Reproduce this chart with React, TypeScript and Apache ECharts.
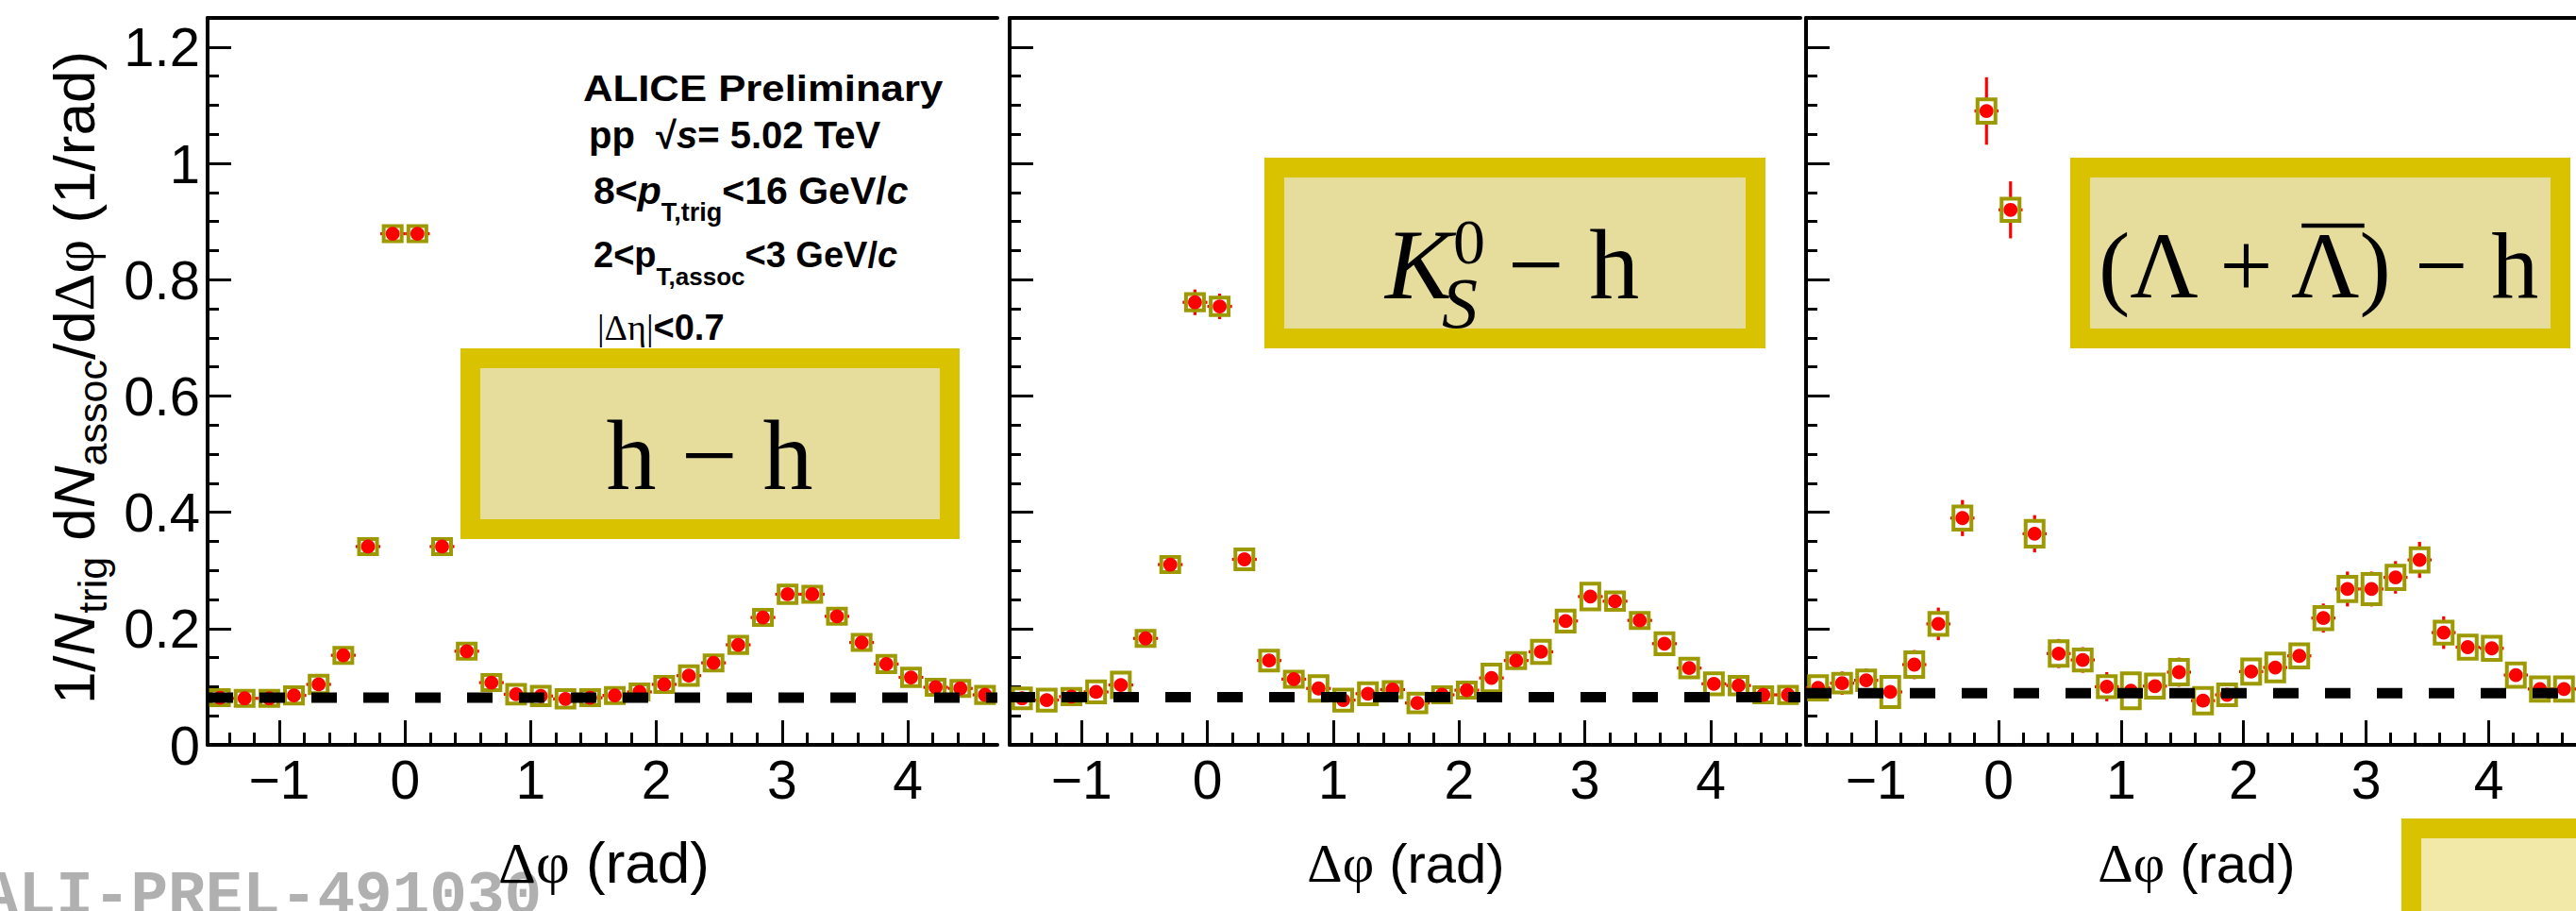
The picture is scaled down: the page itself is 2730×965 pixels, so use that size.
import React, { useEffect, useRef } from "react";
import * as echarts from "echarts";

// ---------- data ----------
const PHI_MIN = -1.5708;
const PHI_MAX = 4.7124;
const BIN_HALF = 0.0982;
const Y_MIN = 0;
const Y_MAX = 1.25;

const dPhi = [
  -1.4726, -1.2763, -1.0799, -0.8836, -0.6872, -0.4909, -0.2945, -0.0982,
  0.0982, 0.2945, 0.4909, 0.6872, 0.8836, 1.0799, 1.2763, 1.4726,
  1.669, 1.8653, 2.0617, 2.258, 2.4544, 2.6507, 2.8471, 3.0434,
  3.2398, 3.4361, 3.6325, 3.8288, 4.0252, 4.2215, 4.4179, 4.6142,
];

const hhYield = [
  0.081, 0.080, 0.080, 0.085, 0.104, 0.154, 0.341, 0.879,
  0.879, 0.341, 0.161, 0.107, 0.087, 0.084, 0.079, 0.081,
  0.085, 0.091, 0.104, 0.119, 0.141, 0.172, 0.219, 0.259,
  0.259, 0.221, 0.176, 0.139, 0.116, 0.099, 0.097, 0.086,
];
const hhStat = [
  0.004, 0.004, 0.004, 0.004, 0.005, 0.006, 0.008, 0.012,
  0.012, 0.008, 0.006, 0.005, 0.004, 0.004, 0.004, 0.004,
  0.004, 0.004, 0.004, 0.005, 0.005, 0.006, 0.007, 0.008,
  0.008, 0.007, 0.006, 0.005, 0.005, 0.004, 0.004, 0.004,
];
const hhSys = [
  0.012, 0.013, 0.011, 0.014, 0.015, 0.011, 0.011, 0.011,
  0.011, 0.012, 0.012, 0.010, 0.016, 0.016, 0.015, 0.012,
  0.011, 0.012, 0.012, 0.016, 0.010, 0.014, 0.013, 0.015,
  0.011, 0.012, 0.013, 0.014, 0.015, 0.012, 0.011, 0.014,
];

const k0Yield = [
  0.080, 0.077, 0.083, 0.091, 0.103, 0.183, 0.310, 0.761,
  0.754, 0.319, 0.145, 0.113, 0.097, 0.077, 0.088, 0.095,
  0.072, 0.086, 0.094, 0.115, 0.145, 0.160, 0.213, 0.255,
  0.247, 0.214, 0.174, 0.132, 0.105, 0.102, 0.086, 0.086,
];
const k0Stat = [
  0.008, 0.008, 0.008, 0.009, 0.010, 0.012, 0.015, 0.022,
  0.022, 0.015, 0.011, 0.010, 0.010, 0.009, 0.009, 0.009,
  0.009, 0.009, 0.010, 0.010, 0.011, 0.012, 0.013, 0.014,
  0.014, 0.013, 0.012, 0.011, 0.010, 0.010, 0.009, 0.009,
];
const k0Sys = [
  0.017, 0.018, 0.013, 0.018, 0.021, 0.013, 0.013, 0.014,
  0.015, 0.017, 0.017, 0.011, 0.021, 0.018, 0.018, 0.011,
  0.016, 0.012, 0.012, 0.023, 0.013, 0.019, 0.018, 0.022,
  0.015, 0.013, 0.018, 0.016, 0.018, 0.015, 0.013, 0.014,
];

const lamYield = [
  0.098, 0.106, 0.111, 0.091, 0.138, 0.208, 0.390, 1.090,
  0.920, 0.363, 0.157, 0.146, 0.100, 0.093, 0.101, 0.125,
  0.076, 0.086, 0.126, 0.133, 0.153, 0.218, 0.268, 0.268,
  0.288, 0.318, 0.193, 0.168, 0.166, 0.120, 0.096, 0.096,
];
const lamStat = [
  0.020, 0.020, 0.020, 0.020, 0.025, 0.028, 0.031, 0.058,
  0.049, 0.032, 0.025, 0.022, 0.025, 0.020, 0.022, 0.025,
  0.020, 0.020, 0.022, 0.022, 0.022, 0.025, 0.030, 0.030,
  0.028, 0.031, 0.028, 0.022, 0.022, 0.022, 0.020, 0.020,
];
const lamSys = [
  0.020, 0.016, 0.017, 0.026, 0.021, 0.019, 0.020, 0.020,
  0.019, 0.022, 0.021, 0.018, 0.018, 0.030, 0.020, 0.021,
  0.022, 0.018, 0.021, 0.024, 0.020, 0.019, 0.021, 0.026,
  0.020, 0.020, 0.019, 0.020, 0.020, 0.020, 0.020, 0.020,
];

const baselines = [0.081, 0.082, 0.089];

const xTickValues = [-1, 0, 1, 2, 3, 4];
const xMinorValues = [
  -1.4, -1.2, -0.8, -0.6, -0.4, -0.2, 0.2, 0.4, 0.6, 0.8, 1.2, 1.4, 1.6, 1.8,
  2.2, 2.4, 2.6, 2.8, 3.2, 3.4, 3.6, 3.8, 4.2, 4.4, 4.6,
];
const yTickValues = [0, 0.2, 0.4, 0.6, 0.8, 1, 1.2];
const yMinorValues = [
  0.05, 0.1, 0.15, 0.25, 0.3, 0.35, 0.45, 0.5, 0.55, 0.65, 0.7, 0.75,
  0.85, 0.9, 0.95, 1.05, 1.1, 1.15, 1.25,
];

// ---------- style ----------
const SANS = '"Liberation Sans", Arial, Helvetica, sans-serif';
const SERIF = '"Liberation Serif", "Times New Roman", serif';
const MONO = '"Liberation Mono", "Courier New", monospace';
const RED = "#ff0000";
const OLIVE = "#9c9a00";
const GOLD = "#d9c200";
const KHAKI = "#e6dc9c";
const PALE = "#f2e8a8";

const panels = [
  { left: 220, width: 837, y: hhYield, stat: hhStat, sys: hhSys, base: baselines[0], labels: true },
  { left: 1070, width: 838, y: k0Yield, stat: k0Stat, sys: k0Sys, base: baselines[1], labels: false },
  { left: 1914, width: 826, y: lamYield, stat: lamStat, sys: lamSys, base: baselines[2], labels: false },
];

const GRID_TOP = 19;
const GRID_H = 770;

function minusFmt(v: number) {
  return v < 0 ? "\u2212" + Math.abs(v) : String(v);
}

function textWidth(t: string, font: string) {
  const ctx = document.createElement("canvas").getContext("2d");
  if (!ctx) return t.length * 50;
  ctx.font = font;
  return ctx.measureText(t).width;
}

function renderPoint(params: any, api: any) {
  const x = api.value(0);
  const y = api.value(1);
  const st = api.value(2);
  const sy = api.value(3);
  const c = api.coord([x, y]);
  const cl = api.coord([x - BIN_HALF, y]);
  const cr = api.coord([x + BIN_HALF, y]);
  const ct = api.coord([x, y + st]);
  const cb = api.coord([x, y - st]);
  const bt = api.coord([x, y + sy]);
  const bb = api.coord([x, y - sy]);
  const h = Math.max(bb[1] - bt[1], 16);
  return {
    type: "group",
    children: [
      { type: "line", shape: { x1: cl[0], y1: c[1], x2: cr[0], y2: c[1] }, style: { stroke: RED, lineWidth: 3.2 } },
      { type: "line", shape: { x1: c[0], y1: ct[1], x2: c[0], y2: cb[1] }, style: { stroke: RED, lineWidth: 3.2 } },
      {
        type: "rect",
        shape: { x: c[0] - 9.5, y: c[1] - h / 2, width: 19, height: h },
        style: { fill: "#ffffff", stroke: OLIVE, lineWidth: 4 },
      },
      { type: "circle", shape: { cx: c[0], cy: c[1], r: 7.4 }, style: { fill: RED } },
    ],
  };
}

function buildOption() {
  const grid: any[] = [];
  const xAxis: any[] = [];
  const yAxis: any[] = [];
  const series: any[] = [];
  const axLine = { color: "#000", width: 4 };
  const tickLine = { color: "#000", width: 3 };

  panels.forEach((p, i) => {
    grid.push({ left: p.left, top: GRID_TOP, width: p.width, height: GRID_H, containLabel: false });
    xAxis.push({
      gridIndex: i, type: "value", min: PHI_MIN, max: PHI_MAX, position: "bottom",
      axisLine: { show: true, onZero: false, lineStyle: axLine },
      axisTick: { show: true, inside: true, length: 26, lineStyle: tickLine, customValues: xTickValues },
      axisLabel: {
        show: true, customValues: xTickValues, margin: 8, fontSize: 57, fontFamily: SANS,
        color: "#000", formatter: minusFmt,
      },
      splitLine: { show: false },
    });
    xAxis.push({
      gridIndex: i, type: "value", min: PHI_MIN, max: PHI_MAX, position: "bottom",
      axisLine: { show: false, onZero: false },
      axisTick: { show: true, inside: true, length: 13, lineStyle: tickLine, customValues: xMinorValues },
      axisLabel: { show: false },
      splitLine: { show: false },
    });
    xAxis.push({
      gridIndex: i, type: "value", min: PHI_MIN, max: PHI_MAX, position: "top",
      axisLine: { show: true, onZero: false, lineStyle: axLine },
      axisTick: { show: false }, axisLabel: { show: false }, splitLine: { show: false },
    });
    yAxis.push({
      gridIndex: i, type: "value", min: Y_MIN, max: Y_MAX, position: "left",
      axisLine: { show: true, onZero: false, lineStyle: axLine },
      axisTick: { show: true, inside: true, length: 25, lineStyle: tickLine, customValues: yTickValues },
      axisLabel: {
        show: p.labels, customValues: yTickValues, margin: 8, fontSize: 58, fontFamily: SANS, color: "#000",
      },
      splitLine: { show: false },
    });
    yAxis.push({
      gridIndex: i, type: "value", min: Y_MIN, max: Y_MAX, position: "left",
      axisLine: { show: false, onZero: false },
      axisTick: { show: true, inside: true, length: 12, lineStyle: tickLine, customValues: yMinorValues },
      axisLabel: { show: false }, splitLine: { show: false },
    });

    series.push({
      type: "custom",
      xAxisIndex: 3 * i,
      yAxisIndex: 2 * i,
      clip: false,
      z: 3,
      renderItem: renderPoint,
      encode: { x: 0, y: 1 },
      data: dPhi.map((x, j) => [x, p.y[j], p.stat[j], p.sys[j]]),
    });
    series.push({
      type: "line",
      xAxisIndex: 3 * i,
      yAxisIndex: 2 * i,
      symbol: "none",
      silent: true,
      z: 5,
      lineStyle: { color: "#000", width: 11, type: [27, 28] },
      data: [[PHI_MIN, p.base], [PHI_MAX, p.base]],
    });
  });

  // ----- graphic annotations -----
  const g: any[] = [];
  const cS = 0.3465;
  const cT = 0.3375;

  const txt = (x: number, baseline: number, text: string, font: string, size: number, off: number) => ({
    type: "text",
    x,
    y: baseline - off * size,
    z: 20,
    style: {
      text, font, fill: "#000", align: "left", verticalAlign: "middle",
      textAlign: "left", textVerticalAlign: "middle",
    },
  });

  g.push({ ...txt(618, 107, "ALICE Preliminary", `bold 38px ${SANS}`, 38, cS), scaleX: 1.15 });
  const richBase = (size: number, sub: number, shift: number) => ({
    b: { fontSize: size, fontWeight: "bold", fontFamily: SANS, fill: "#000" },
    bi: { fontSize: size, fontWeight: "bold", fontStyle: "italic", fontFamily: SANS, fill: "#000" },
    s: { fontSize: sub, fontWeight: "bold", fontFamily: SANS, fill: "#000", padding: [shift * 2, 0, 0, 0] },
    t: { fontSize: size, fontFamily: SERIF, fill: "#000" },
  });
  const richText = (x: number, baseline: number, size: number, text: string, sub = 26, shift = 23) => ({
    type: "text", x, y: baseline - cS * size, z: 20,
    style: {
      text, rich: richBase(size, sub, shift), align: "left", verticalAlign: "middle",
      textAlign: "left", textVerticalAlign: "middle",
    },
  });
  g.push(richText(624, 157, 40, "{b|pp  \u221A}{bi|s}{b|= 5.02 TeV}"));
  g.push(richText(629, 216, 41, "{b|8<}{bi|p}{s|T,trig}{b|<16 GeV/}{bi|c}", 27, 23));
  g.push(richText(629, 283, 38, "{b|2<p}{s|T,assoc}{b|<3 GeV/}{bi|c}", 26, 23));
  g.push(richText(633, 360, 38, "{t||\u0394\u03B7|}{b|<0.7}"));

  const box = (x: number, y: number, w: number, h: number, inner: string) => [
    { type: "rect", z: 15, shape: { x, y, width: w, height: h }, style: { fill: GOLD } },
    { type: "rect", z: 16, shape: { x: x + 21, y: y + 21, width: w - 42, height: h - 42 }, style: { fill: inner } },
  ];
  g.push(...box(488, 369, 529, 202, KHAKI));
  g.push(...box(1340, 167, 531, 202, KHAKI));
  g.push(...box(2194, 167, 530, 202, KHAKI));
  g.push(...box(2545, 867, 300, 200, PALE));

  g.push({
    type: "text", x: 752, y: 518 - cT * 106, z: 20,
    style: { text: "h \u2212 h", font: `106px ${SERIF}`, fill: "#000", align: "center", verticalAlign: "middle", textAlign: "center", textVerticalAlign: "middle" },
  });
  g.push(txt(1468, 316, "K", `italic 106px ${SERIF}`, 106, cT));
  g.push(txt(1528, 347, "S", `italic 76px ${SERIF}`, 76, cT));
  g.push(txt(1540, 279, "0", `68px ${SERIF}`, 68, cT));
  g.push(txt(1598, 316, "\u2212 h", `106px ${SERIF}`, 106, cT));

  const lamFont = `100px ${SERIF}`;
  const lamX = 2224;
  g.push(txt(lamX, 315, "(\u039B + \u039B) \u2212 h", lamFont, 100, cT));
  const w1 = textWidth("(\u039B + ", lamFont);
  const w2 = textWidth("\u039B", lamFont);
  g.push({
    type: "line", z: 20,
    shape: { x1: lamX + w1 + 3, y1: 239, x2: lamX + w1 + w2 - 3, y2: 239 },
    style: { stroke: "#000", lineWidth: 4.5 },
  });

  const xTitle = (cx: number, size: number) => ({
    type: "text", x: cx, y: 935 - 0.345 * size, z: 20,
    style: {
      text: "{g|\u0394\u03C6}{n| (rad)}",
      rich: {
        g: { fontSize: size, fontFamily: SERIF, fill: "#000" },
        n: { fontSize: size, fontFamily: SANS, fill: "#000" },
      },
      align: "center", verticalAlign: "middle", textAlign: "center", textVerticalAlign: "middle",
    },
  });
  g.push(xTitle(640, 62));
  g.push(xTitle(1490, 58));
  g.push(xTitle(2328, 58));

  g.push({
    type: "text", x: 78, y: 400, rotation: Math.PI / 2, z: 20,
    style: {
      text: "{n|1/}{ni|N}{s|trig}{n| d}{ni|N}{s|assoc}{n|/d}{g|\u0394\u03C6}{n| (1/rad)}",
      rich: {
        n: { fontSize: 62, fontFamily: SANS, fill: "#000" },
        ni: { fontSize: 62, fontFamily: SANS, fontStyle: "italic", fill: "#000" },
        s: { fontSize: 43, fontFamily: SANS, fill: "#000", padding: [40, 0, 0, 0] },
        g: { fontSize: 62, fontFamily: SERIF, fill: "#000" },
      },
      align: "center", verticalAlign: "middle", textAlign: "center", textVerticalAlign: "middle",
    },
  });

  g.push({
    type: "text", x: -20, y: 968 - 0.2665 * 66, z: 1,
    style: { text: "ALI-PREL-491030", font: `bold 66px ${MONO}`, fill: "#b0b0b0", align: "left", verticalAlign: "middle", textAlign: "left", textVerticalAlign: "middle" },
  });

  return {
    animation: false,
    backgroundColor: "#ffffff",
    grid,
    xAxis,
    yAxis,
    series,
    graphic: { elements: g },
  };
}

export default function App() {
  const ref = useRef<HTMLDivElement>(null);
  useEffect(() => {
    const el = ref.current;
    if (!el) return;
    const chart = echarts.init(el, null, { renderer: "svg" });
    chart.setOption(buildOption() as any);
    return () => chart.dispose();
  }, []);
  return (
    <div
      ref={ref}
      style={{ position: "absolute", left: 0, top: 0, width: 2730, height: 965, background: "#fff", overflow: "hidden" }}
    />
  );
}
